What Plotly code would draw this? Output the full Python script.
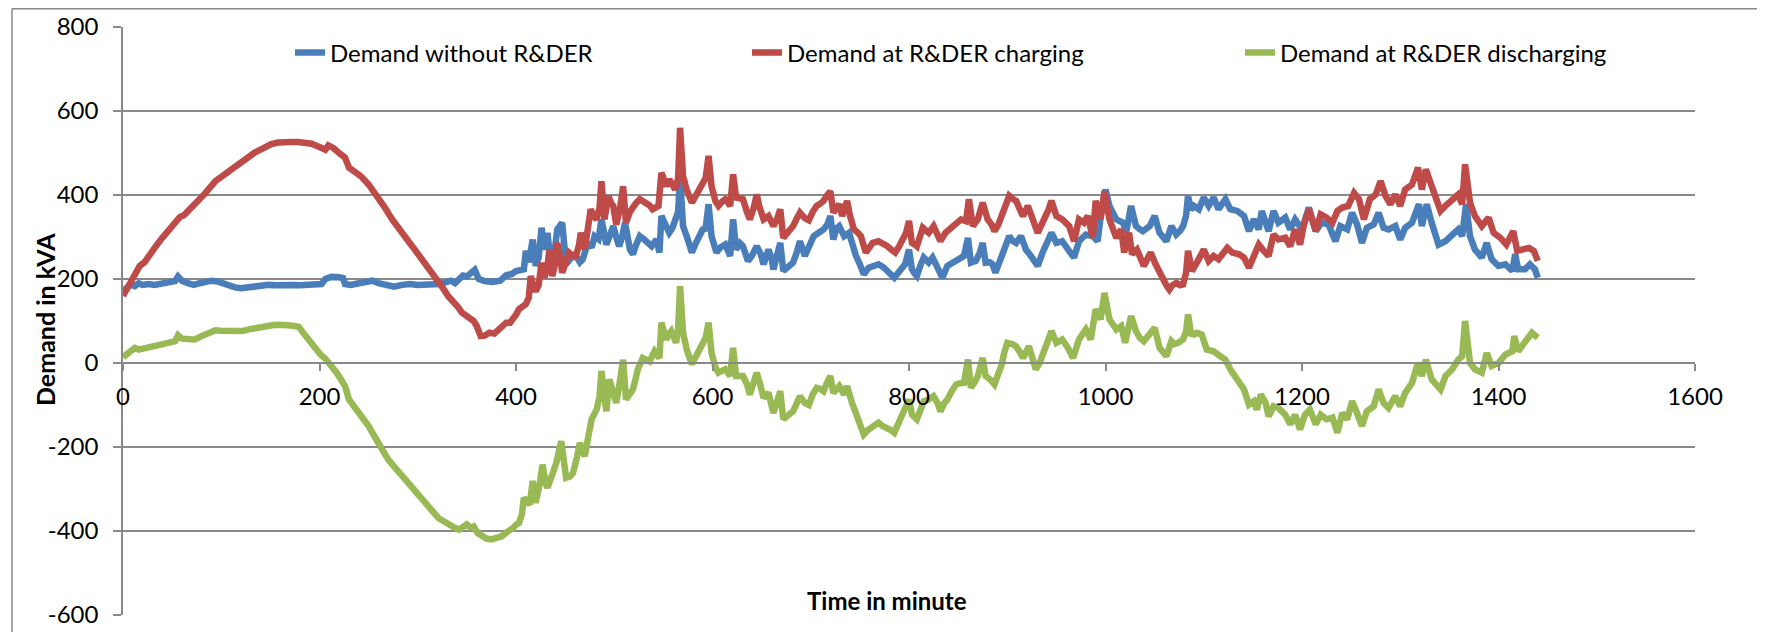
import plotly.graph_objects as go

# (minute, kVA) readings taken off the original chart
blue_pts = [
    (0, 172), (4, 180), (8, 186), (12, 183), (16, 190), (20, 186), (26, 188), (32, 186), (40, 188), (48, 190),
    (53, 195), (56, 206), (60, 196), (66, 190), (72, 186), (78, 190), (84, 192), (90, 196), (96, 194), (102, 188),
    (108, 183), (114, 180), (120, 178), (126, 180), (132, 183), (140, 184), (148, 186), (156, 185), (164, 187),
    (172, 186), (180, 185), (188, 186), (196, 186), (202, 188), (206, 200), (212, 205), (220, 204), (224, 202),
    (226, 188), (232, 186), (240, 190), (248, 192), (254, 196), (260, 190), (268, 184), (276, 182), (284, 186),
    (292, 188), (300, 186), (308, 187), (316, 186), (322, 188), (328, 192), (334, 196), (338, 190), (342, 200),
    (346, 208), (350, 206), (354, 214), (358, 222), (362, 200), (368, 195), (376, 193), (384, 196), (390, 209),
    (396, 212), (400, 219), (404, 221), (408, 223), (410, 267), (413, 240), (417, 294), (420, 231), (423, 250),
    (426, 322), (429, 270), (432, 310), (436, 223), (439, 260), (442, 318), (447, 334), (451, 235), (456, 250),
    (461, 255), (465, 240), (468, 247), (473, 286), (477, 275), (480, 302), (484, 295), (487, 342), (492, 282),
    (495, 300), (499, 326), (502, 300), (505, 278), (508, 300), (511, 334), (516, 270), (519, 259), (522, 280),
    (526, 302), (530, 295), (533, 290), (538, 278), (543, 294), (546, 263), (548, 350), (551, 335), (553, 330),
    (556, 310), (559, 320), (562, 338), (565, 360), (567, 445), (570, 326), (574, 300), (579, 263), (583, 285),
    (587, 302), (590, 318), (593, 320), (596, 378), (599, 302), (604, 263), (608, 275), (613, 282), (618, 255),
    (621, 342), (624, 270), (628, 285), (631, 278), (636, 243), (640, 255), (645, 278), (649, 260), (652, 235),
    (657, 270), (660, 250), (662, 223), (666, 260), (669, 286), (672, 219), (677, 230), (682, 239), (686, 265),
    (689, 290), (694, 255), (698, 280), (703, 302), (708, 310), (713, 318), (717, 330), (720, 350), (723, 294),
    (726, 320), (729, 326), (734, 302), (739, 310), (742, 285), (746, 255), (750, 235), (754, 211), (759, 227),
    (764, 230), (769, 235), (774, 228), (778, 219), (782, 210), (785, 203), (788, 212), (791, 223), (796, 235),
    (800, 270), (803, 223), (806, 212), (808, 207), (812, 235), (815, 251), (820, 239), (824, 251), (829, 227),
    (834, 203), (839, 231), (844, 238), (848, 243), (852, 248), (856, 255), (860, 298), (863, 239), (868, 243),
    (872, 262), (875, 286), (878, 239), (882, 240), (885, 235), (888, 215), (891, 235), (894, 247), (898, 275),
    (902, 302), (906, 290), (909, 286), (914, 302), (919, 270), (924, 255), (928, 240), (931, 231), (936, 263),
    (940, 285), (945, 310), (950, 286), (956, 290), (962, 270), (968, 251), (973, 290), (977, 300), (980, 306),
    (987, 302), (992, 290), (996, 366), (1000, 413), (1004, 374), (1008, 355), (1011, 342), (1018, 334),
    (1021, 310), (1026, 374), (1031, 326), (1035, 318), (1038, 314), (1045, 326), (1050, 350), (1055, 310),
    (1059, 300), (1062, 290), (1067, 326), (1072, 306), (1076, 315), (1079, 326), (1082, 350), (1084, 398),
    (1087, 365), (1090, 374), (1095, 366), (1100, 394), (1105, 374), (1110, 394), (1115, 366), (1122, 390),
    (1127, 366), (1134, 362), (1141, 350), (1146, 314), (1151, 342), (1156, 318), (1159, 362), (1166, 314),
    (1171, 362), (1176, 334), (1183, 346), (1188, 318), (1193, 342), (1200, 318), (1207, 370), (1214, 314),
    (1220, 334), (1227, 330), (1234, 290), (1239, 326), (1246, 318), (1251, 358), (1256, 330), (1261, 286),
    (1266, 322), (1273, 330), (1278, 358), (1283, 322), (1288, 318), (1295, 326), (1300, 294), (1305, 322),
    (1312, 334), (1319, 378), (1322, 326), (1327, 378), (1332, 334), (1339, 282), (1346, 290), (1353, 306),
    (1359, 318), (1363, 302), (1367, 378), (1371, 302), (1376, 270), (1383, 251), (1388, 286), (1393, 247),
    (1400, 231), (1407, 235), (1414, 219), (1417, 259), (1420, 223), (1427, 223), (1432, 235), (1437, 223),
    (1440, 203),
]

red_pts = [
    (0, 160), (4, 175), (8, 195), (12, 205), (17, 231), (22, 240), (28, 262), (34, 280), (40, 298), (46, 315),
    (52, 330), (55, 342), (58, 348), (62, 352), (68, 365), (74, 380), (80, 395), (84, 405), (90, 425), (94, 433),
    (100, 443), (105, 452), (109, 457), (115, 468), (121, 480), (128, 492), (134, 501), (140, 508), (146, 516),
    (151, 521), (158, 525), (165, 527), (172, 526), (178, 526), (185, 525), (192, 522), (198, 516), (203, 510),
    (206, 508), (209, 518), (214, 512), (220, 500), (226, 489), (230, 465), (236, 455), (242, 445), (250, 425),
    (255, 410), (260, 390), (266, 372), (274, 342), (280, 325), (286, 305), (292, 285), (297, 270), (303, 252),
    (308, 233), (314, 215), (320, 196), (326, 177), (331, 159), (336, 148), (341, 133), (345, 120), (350, 112),
    (354, 106), (357, 100), (360, 88), (364, 64), (368, 65), (373, 72), (378, 70), (383, 80), (387, 85),
    (390, 96), (394, 96), (397, 104), (400, 115), (403, 128), (407, 133), (410, 140), (413, 155), (415, 207),
    (418, 180), (420, 171), (423, 185), (426, 239), (429, 203), (432, 230), (434, 270), (437, 207), (440, 240),
    (442, 286), (445, 250), (447, 215), (450, 235), (454, 263), (458, 255), (461, 255), (464, 280), (466, 310),
    (470, 270), (473, 320), (476, 366), (479, 350), (482, 342), (485, 370), (487, 433), (490, 342), (494, 398),
    (497, 380), (499, 374), (502, 330), (506, 370), (509, 421), (512, 334), (516, 360), (519, 374), (522, 380),
    (526, 390), (530, 385), (533, 382), (536, 375), (539, 366), (542, 372), (545, 374), (548, 453), (551, 430),
    (553, 421), (556, 437), (559, 425), (562, 413), (565, 440), (567, 560), (570, 445), (574, 410), (579, 382),
    (583, 400), (587, 413), (590, 425), (593, 440), (596, 493), (599, 421), (603, 385), (606, 374), (610, 385),
    (613, 390), (618, 374), (621, 449), (624, 394), (628, 392), (631, 390), (635, 360), (638, 342), (642, 370),
    (645, 401), (648, 370), (652, 342), (657, 350), (662, 326), (666, 345), (669, 366), (672, 298), (677, 310),
    (682, 326), (686, 345), (689, 358), (694, 345), (698, 340), (702, 360), (706, 374), (710, 380), (713, 386),
    (717, 400), (720, 409), (723, 358), (726, 370), (729, 378), (732, 350), (737, 386), (740, 350), (744, 318),
    (748, 310), (751, 302), (756, 263), (760, 278), (763, 286), (769, 290), (774, 285), (778, 278), (782, 270),
    (786, 263), (790, 278), (793, 294), (797, 310), (800, 338), (803, 286), (806, 282), (808, 278), (814, 322),
    (820, 310), (825, 326), (829, 305), (832, 290), (837, 310), (842, 320), (846, 330), (850, 338), (853, 342),
    (858, 338), (861, 390), (865, 326), (870, 342), (875, 382), (880, 342), (884, 330), (887, 314), (891, 330),
    (894, 350), (898, 375), (902, 398), (906, 390), (909, 386), (913, 365), (916, 350), (921, 374), (926, 342),
    (931, 310), (934, 325), (938, 342), (942, 365), (945, 386), (950, 350), (956, 342), (960, 335), (963, 326),
    (968, 290), (973, 342), (978, 334), (982, 350), (987, 298), (990, 386), (995, 342), (999, 409), (1004, 342),
    (1008, 320), (1011, 298), (1016, 318), (1019, 263), (1024, 310), (1027, 259), (1032, 270), (1036, 250),
    (1039, 231), (1043, 250), (1046, 263), (1051, 235), (1055, 215), (1058, 199), (1062, 185), (1065, 175),
    (1068, 185), (1072, 191), (1076, 185), (1079, 187), (1082, 215), (1084, 267), (1086, 240), (1088, 219),
    (1093, 239), (1100, 270), (1105, 243), (1110, 255), (1115, 247), (1120, 262), (1124, 274), (1129, 263),
    (1136, 259), (1141, 251), (1146, 227), (1151, 255), (1156, 282), (1161, 267), (1166, 255), (1171, 306),
    (1176, 294), (1183, 298), (1188, 278), (1193, 318), (1198, 282), (1202, 330), (1207, 366), (1214, 314),
    (1219, 354), (1225, 346), (1231, 334), (1236, 362), (1241, 370), (1247, 374), (1253, 405), (1258, 390),
    (1263, 342), (1269, 390), (1275, 401), (1280, 433), (1285, 398), (1290, 378), (1295, 401), (1300, 374),
    (1305, 413), (1312, 425), (1318, 465), (1322, 413), (1326, 461), (1332, 421), (1341, 362), (1346, 374),
    (1353, 390), (1359, 401), (1363, 378), (1366, 473), (1371, 382), (1376, 350), (1383, 326), (1390, 346),
    (1395, 310), (1402, 298), (1408, 282), (1415, 314), (1419, 267), (1424, 270), (1431, 274), (1436, 267),
    (1440, 243),
]

green_pts = [
    (0, 14), (4, 22), (8, 30), (12, 36), (16, 32), (22, 36), (28, 40), (34, 42), (40, 45), (46, 48), (53, 52),
    (56, 66), (60, 58), (66, 57), (73, 56), (80, 64), (87, 72), (94, 78), (100, 77), (107, 76), (114, 76),
    (121, 76), (128, 80), (135, 84), (145, 89), (152, 90), (157, 91), (162, 92), (168, 90), (174, 88), (179, 86),
    (184, 70), (190, 52), (196, 32), (201, 20), (206, 10), (209, 2), (213, -10), (218, -25), (222, -40),
    (226, -55), (230, -87), (236, -105), (243, -125), (250, -150), (256, -175), (262, -200), (270, -230),
    (278, -252), (287, -277), (295, -300), (304, -325), (312, -348), (321, -369), (326, -376), (331, -381),
    (336, -390), (342, -397), (346, -392), (350, -384), (354, -392), (357, -389), (361, -405), (365, -412),
    (370, -418), (375, -420), (380, -418), (385, -413), (390, -404), (394, -400), (397, -393), (400, -385),
    (403, -381), (406, -360), (408, -321), (411, -330), (414, -337), (417, -281), (420, -333), (424, -290),
    (427, -242), (430, -285), (432, -297), (437, -265), (441, -238), (446, -186), (449, -240), (451, -273),
    (455, -270), (458, -262), (462, -225), (465, -190), (468, -210), (470, -222), (474, -170), (477, -134),
    (480, -120), (482, -111), (485, -80), (487, -19), (490, -80), (492, -115), (495, -39), (499, -70),
    (502, -95), (506, -40), (509, 8), (512, -87), (516, -70), (519, -63), (522, -35), (524, -15), (529, 12),
    (533, 8), (536, 4), (541, 28), (544, 20), (546, 12), (548, 96), (551, 70), (553, 56), (556, 70), (558, 76),
    (563, 48), (565, 80), (567, 183), (570, 72), (574, 30), (579, -3), (583, 15), (587, 32), (590, 48),
    (593, 60), (596, 96), (599, 24), (603, -10), (606, -23), (610, -18), (613, -15), (618, -31), (621, 36),
    (624, -31), (628, -30), (631, -31), (635, -50), (638, -75), (642, -45), (645, -23), (649, -55), (652, -83),
    (657, -71), (662, -119), (666, -90), (669, -67), (672, -134), (677, -125), (682, -115), (686, -95),
    (689, -79), (694, -95), (698, -100), (702, -75), (706, -59), (710, -62), (713, -67), (717, -45), (720, -31),
    (723, -71), (726, -60), (729, -55), (734, -75), (737, -55), (742, -95), (747, -127), (750, -150),
    (754, -170), (758, -160), (761, -154), (765, -148), (769, -142), (773, -150), (778, -154), (782, -160),
    (785, -166), (788, -150), (791, -138), (796, -115), (800, -87), (803, -123), (806, -130), (808, -134),
    (812, -110), (815, -91), (820, -87), (825, -79), (829, -95), (832, -115), (836, -95), (839, -87),
    (844, -65), (848, -51), (852, -48), (856, -47), (860, 8), (863, -59), (867, -45), (870, -31), (875, 12),
    (878, -31), (883, -40), (887, -51), (891, -25), (894, -7), (897, 25), (900, 48), (905, 45), (909, 40),
    (913, 25), (916, 12), (922, 40), (926, 10), (929, -15), (933, 0), (936, 20), (940, 50), (945, 76),
    (950, 48), (956, 56), (962, 35), (967, 12), (973, 56), (977, 70), (980, 80), (985, 56), (990, 128),
    (995, 104), (999, 167), (1004, 104), (1008, 90), (1011, 80), (1016, 88), (1020, 48), (1026, 112),
    (1031, 76), (1035, 60), (1039, 52), (1046, 72), (1050, 84), (1055, 36), (1058, 25), (1062, 16), (1067, 52),
    (1070, 45), (1074, 48), (1079, 56), (1082, 75), (1084, 116), (1087, 70), (1090, 68), (1093, 72), (1098, 68),
    (1103, 32), (1110, 28), (1117, 16), (1122, 8), (1127, -15), (1134, -39), (1141, -63), (1146, -99),
    (1151, -91), (1154, -111), (1158, -75), (1163, -95), (1166, -127), (1171, -103), (1176, -107), (1183, -123),
    (1188, -146), (1193, -123), (1198, -158), (1203, -123), (1208, -111), (1214, -146), (1219, -123),
    (1225, -134), (1231, -130), (1236, -166), (1241, -119), (1246, -134), (1251, -91), (1256, -119),
    (1261, -150), (1266, -115), (1273, -103), (1278, -63), (1283, -95), (1288, -107), (1295, -79), (1300, -103),
    (1305, -71), (1312, -47), (1318, 0), (1322, -31), (1326, 8), (1332, -39), (1341, -63), (1346, -31),
    (1353, -15), (1359, 8), (1363, 16), (1366, 100), (1371, 0), (1376, -15), (1383, -23), (1388, 24),
    (1393, -7), (1400, 0), (1407, 20), (1414, 28), (1416, 64), (1420, 28), (1427, 48), (1434, 72), (1440, 60),
]

series_names = ['Demand without R&DER', 'Demand at R&DER charging', 'Demand at R&DER discharging']
series_colors = ['#4A7EBB', '#BE4B48', '#98B954']
x_range = [0, 1600]
y_range = [-600, 800]
x_ticks = list(range(0, 1601, 200))
y_ticks = list(range(-600, 801, 200))

# page geometry (px); the html body adds an 8px margin around the figure
PAGE_W, PAGE_H, OFF = 1765, 632, 8
L, R, T, B = 123, 70, 27, 17          # plot area edges in page px
GRID = '#898989'
FONT = 'Lato'


def paper_x(px):
    return (px - L) / (PAGE_W - L - R)


def paper_y(py):
    return (PAGE_H - B - py) / (PAGE_H - T - B)


fig = go.Figure()
legend_ids = ['legend', 'legend2', 'legend3']
for pts, name, color, lg in zip([blue_pts, red_pts, green_pts], series_names, series_colors, legend_ids):
    t, v = zip(*pts)
    fig.add_trace(go.Scatter(
        x=list(t), y=list(v), mode='lines', name=name, legend=lg, showlegend=True,
        line=dict(color=color, width=6.5),
    ))

# three legends, one per entry, placed like the original
legend_left = [290, 747, 1240]
legend_common = dict(
    orientation='h', yanchor='middle', xanchor='left', y=paper_y(53),
    font=dict(family=FONT, size=24, color='black'), bgcolor='rgba(0,0,0,0)', borderwidth=0,
    visible=True,
)
for lg, lx in zip(legend_ids, legend_left):
    fig.update_layout({lg: dict(x=paper_x(lx), **legend_common)})

zero_pos = (0 - y_range[0]) / (y_range[1] - y_range[0])

fig.update_layout(
    width=PAGE_W - OFF, height=PAGE_H - OFF,
    margin=dict(l=L - OFF, r=R, t=T - OFF, b=B, autoexpand=False),
    showlegend=True,
    paper_bgcolor='white', plot_bgcolor='white',
    font=dict(family=FONT, size=24, color='black'),
    xaxis=dict(
        range=x_range, tickmode='array', tickvals=x_ticks, ticktext=[str(v) for v in x_ticks],
        showgrid=False, zeroline=False,
        showline=True, linecolor=GRID, linewidth=1.5,
        anchor='free', position=zero_pos,
        ticks='outside', ticklen=7, tickcolor=GRID, tickwidth=1.5,
        ticklabelstandoff=5,
        tickfont=dict(family=FONT, size=24, color='black'),
    ),
    yaxis=dict(
        range=y_range, tickmode='array', tickvals=y_ticks, ticktext=[str(v) for v in y_ticks],
        showgrid=True, gridcolor=GRID, gridwidth=1.5,
        zeroline=False, showline=True, linecolor=GRID, linewidth=1.5,
        ticks='outside', ticklen=8, tickcolor=GRID, tickwidth=1.5,
        ticklabelstandoff=10,
        tickfont=dict(family=FONT, size=24, color='black'),
    ),
    annotations=[
        dict(text='<b>Time in minute</b>', xref='paper', yref='paper',
             x=paper_x(887), y=paper_y(600), xanchor='center', yanchor='middle',
             showarrow=False, font=dict(family=FONT, size=24, color='black')),
        dict(text='<b>Demand in kVA</b>', xref='paper', yref='paper', textangle=-90,
             x=paper_x(45), y=paper_y(320), xanchor='center', yanchor='middle',
             showarrow=False, font=dict(family=FONT, size=25, color='black')),
    ],
    shapes=[
        dict(type='line', xref='paper', yref='paper', x0=paper_x(12), x1=paper_x(PAGE_W + 5),
             y0=paper_y(OFF + 0.8), y1=paper_y(OFF + 0.8), line=dict(color=GRID, width=1.5)),
        dict(type='line', xref='paper', yref='paper', x0=paper_x(12), x1=paper_x(12),
             y0=paper_y(OFF + 0.8), y1=paper_y(PAGE_H + 5), line=dict(color=GRID, width=1.5)),
    ],
)

fig.write_html('out.html')
